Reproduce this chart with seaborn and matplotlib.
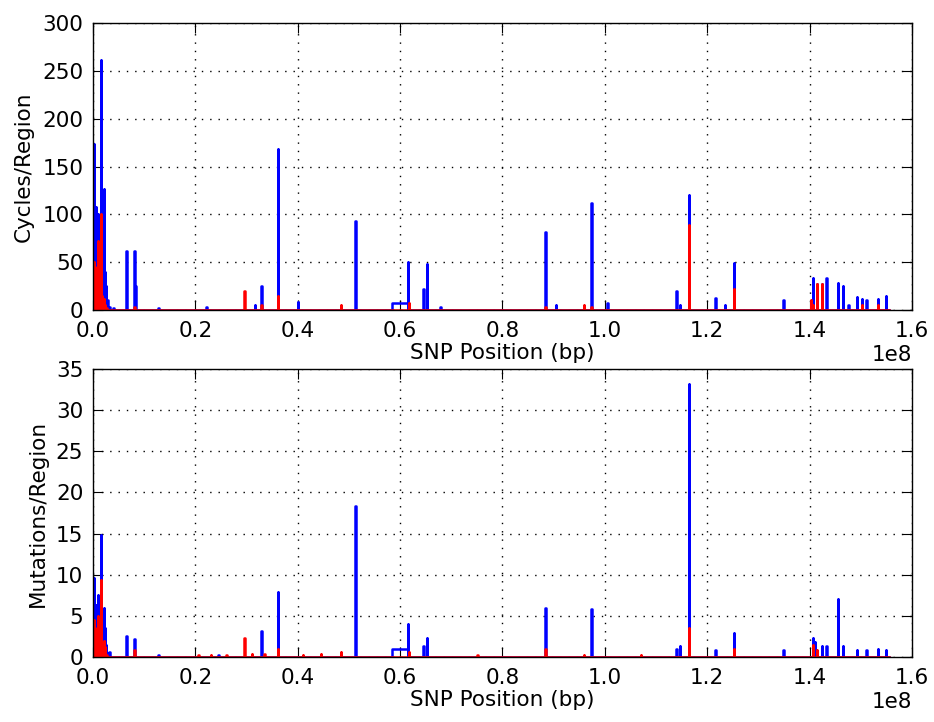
import numpy as np
import pandas as pd
import matplotlib
matplotlib.use("Agg")
import matplotlib.pyplot as plt
import seaborn as sns

# ---------------- data (positions in Mb) ----------------
# Top panel: Cycles/Region
cyc_blue_pos = [0.1, 0.3, 0.5, 0.7, 0.9, 1.1, 1.3, 1.5, 1.7, 1.9, 2.1, 2.3, 2.5, 2.8, 3.2, 4.0,
                6.45, 8.0, 8.2, 12.7, 22.1, 31.6, 32.8, 36.1, 40.0, 51.2, 61.5, 64.5, 65.2, 67.8,
                88.3, 90.4, 97.3, 100.4, 113.9, 114.6, 116.4, 121.5, 123.4, 125.2, 134.8,
                140.2, 140.6, 141.4, 142.4, 143.2, 145.5, 146.5, 147.5, 149.2, 150.2, 151.0,
                153.3, 154.9]
cyc_blue_val = [174, 95, 108, 85, 100, 60, 90, 261, 45, 35, 127, 40, 25, 10, 3, 2,
                62, 62, 25, 2, 3, 5, 25, 168, 8, 93, 50, 22, 48, 3,
                82, 5, 112, 7, 20, 5, 120, 13, 5, 49, 10,
                8, 33, 27, 27, 33, 28, 25, 5, 14, 12, 10,
                12, 15]
cyc_red_pos = [0.1, 0.3, 0.5, 0.7, 0.9, 1.1, 1.3, 1.5, 1.7, 1.9, 2.1, 2.3, 2.6,
               8.0, 29.5, 32.8, 36.1, 48.4, 61.7, 88.3, 95.9, 97.3, 116.4, 125.2,
               140.2, 140.6, 141.4, 142.4, 150.2, 153.3]
cyc_red_val = [50, 45, 30, 10, 72, 20, 48, 100, 15, 8, 12, 5, 2,
               3, 20, 5, 15, 5, 7, 3, 5, 3, 89, 22,
               10, 5, 27, 27, 5, 5]

# Bottom panel: Mutations/Region
mut_blue_pos = [0.1, 0.3, 0.5, 0.7, 0.9, 1.1, 1.3, 1.5, 1.7, 1.9, 2.1, 2.3, 2.5, 2.8, 3.2,
                6.45, 8.0, 12.7, 24.4, 32.8, 36.1, 51.2, 61.5, 64.5, 65.2,
                88.3, 97.3, 113.9, 114.6, 116.4, 121.5, 125.2, 134.8,
                140.6, 141.0, 142.4, 143.2, 145.5, 146.5, 149.2, 151.0, 153.3, 154.9]
mut_blue_val = [9.6, 6.0, 6.3, 5.0, 7.5, 3.0, 4.0, 14.8, 3.0, 2.5, 6.0, 3.5, 1.5, 0.5, 0.6,
                2.5, 2.2, 0.3, 0.3, 3.2, 7.9, 18.3, 4.0, 1.3, 2.3,
                5.9, 5.8, 1.0, 1.3, 33.2, 0.8, 2.9, 0.8,
                2.3, 1.8, 1.3, 1.3, 7.0, 1.3, 0.8, 0.8, 1.0, 0.8]
mut_red_pos = [0.1, 0.3, 0.5, 0.7, 0.9, 1.1, 1.3, 1.5, 1.7, 1.9, 2.1, 2.3, 2.6,
               8.0, 20.5, 23.0, 26.0, 29.5, 31.0, 33.5, 36.1, 41.0, 44.5, 48.4,
               61.7, 75.0, 88.3, 95.9, 107.0, 116.4, 125.2, 140.6, 141.4]
mut_red_val = [4.5, 3.5, 2.5, 1.0, 5.0, 2.0, 2.8, 9.3, 1.5, 1.0, 2.0, 1.2, 0.3,
               0.8, 0.3, 0.3, 0.3, 2.3, 0.4, 0.4, 1.0, 0.3, 0.4, 0.6,
               0.6, 0.2, 1.0, 0.3, 0.2, 3.5, 1.0, 1.5, 0.8]

# One wide region (start, end in Mb) with its heights
wide_start, wide_end = 58.4, 61.5
wide_cyc_blue, wide_mut_blue = 7.0, 1.0

xticks = [0.0, 0.2, 0.4, 0.6, 0.8, 1.0, 1.2, 1.4, 1.6]


def step_frame(pos, val, wide=None, w=0.12):
    regions = [(p, p + w, v) for p, v in zip(pos, val)]
    if wide is not None:
        regions.append(wide)
    regions.sort(key=lambda r: r[0])
    xs, ys = [0.0], [0.0]
    for s, e, h in regions:
        xs += [s, s, e, e]
        ys += [0.0, h, h, 0.0]
    xs.append(155.5)
    ys.append(0.0)
    return pd.DataFrame({"x": np.array(xs) * 1e6, "y": ys, "o": np.arange(len(xs))})


plt.rcParams.update({
    "font.family": "DejaVu Sans",
    "font.size": 15.5,
    "xtick.direction": "in",
    "ytick.direction": "in",
    "xtick.top": True,
    "ytick.right": True,
    "xtick.major.size": 7,
    "ytick.major.size": 7,
    "xtick.major.pad": 8,
    "ytick.major.pad": 7,
    "axes.linewidth": 1.0,
})

fig = plt.figure(figsize=(9.34, 7.22), dpi=100)
ax1 = fig.add_axes([0.0996, 0.5706, 0.8768, 0.3975])
ax2 = fig.add_axes([0.0996, 0.0900, 0.8768, 0.3990])

panels = [
    (ax1, cyc_blue_pos, cyc_blue_val, cyc_red_pos, cyc_red_val, wide_cyc_blue, (0, 300), 50, "Cycles/Region"),
    (ax2, mut_blue_pos, mut_blue_val, mut_red_pos, mut_red_val, wide_mut_blue, (0, 35), 5, "Mutations/Region"),
]
for ax, bp, bv, rp, rv, wh, ylim, ystep, ylab in panels:
    dfb = step_frame(bp, bv, wide=(wide_start, wide_end, wh))
    dfr = step_frame(rp, rv)
    sns.lineplot(data=dfb, x="x", y="y", sort=False, estimator=None, color="blue", lw=1.8, ax=ax)
    sns.lineplot(data=dfr, x="x", y="y", sort=False, estimator=None, color="red", lw=1.8, ax=ax)
    ax.set_xlim(0, 1.6e8)
    ax.set_ylim(*ylim)
    ax.set_xticks([t * 1e8 for t in xticks])
    ax.set_yticks(np.arange(ylim[0], ylim[1] + ystep / 2, ystep))
    ax.grid(True, color="black", linestyle=(0, (1, 5)), linewidth=1.0)
    ax.set_axisbelow(True)
    ax.set_xlabel("SNP Position (bp)", labelpad=1)
    ax.set_ylabel(ylab, labelpad=6)
    ax.tick_params(labelsize=15.5)
    ax.xaxis.get_offset_text().set_fontsize(15.5)
    for sp in ax.spines.values():
        sp.set_color("black")

fig.savefig("out.png", dpi=100)
